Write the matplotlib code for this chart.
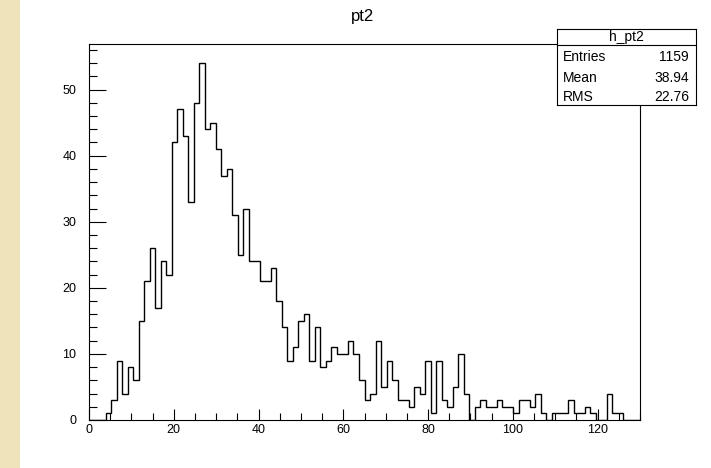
"""ROOT-style histogram of pt2 with a stats box."""

import numpy as np
import matplotlib
matplotlib.use("Agg")
import matplotlib.pyplot as plt
from matplotlib.ticker import MultipleLocator

plt.rcParams["font.family"] = ["Liberation Sans", "DejaVu Sans"]

# histogram h_pt2: 100 bins from 0 to 130
NBINS, XMIN, XMAX = 100, 0.0, 130.0
counts = [
    0, 0, 0, 1, 3, 9, 4, 8, 6, 15,
    21, 26, 17, 24, 22, 42, 47, 43, 33, 48,
    54, 44, 45, 41, 37, 38, 31, 25, 32, 24,
    24, 21, 21, 23, 18, 14, 9, 11, 15, 16,
    9, 14, 8, 9, 11, 10, 10, 12, 10, 6,
    3, 4, 12, 5, 9, 6, 3, 3, 2, 5,
    4, 9, 1, 9, 3, 2, 5, 10, 4, 0,
    2, 3, 2, 2, 3, 2, 2, 1, 3, 3,
    2, 4, 1, 0, 1, 1, 1, 3, 1, 1,
    2, 1, 0, 0, 4, 1, 1, 0, 0, 0,
]
title = "pt2"
stats_name = "h_pt2"
stats_labels = ["Entries", "Mean", "RMS"]
stats_values = ["1159", "38.94", "22.76"]

W, H = 711, 468
fig = plt.figure(figsize=(W / 100, H / 100), dpi=100)
fig.patch.set_facecolor("white")

# parchment strip on the left edge
strip = fig.add_axes([0, 0, 20 / W, 1])
strip.set_facecolor("#efe3bb")
strip.set_xticks([]); strip.set_yticks([])
for s in strip.spines.values():
    s.set_visible(False)

ax = fig.add_axes([89 / W, (H - 420) / H, 551 / W, 376 / H])
edges = np.linspace(XMIN, XMAX, NBINS + 1)
ax.stairs(counts, edges, color="black", lw=1.0, baseline=0)
ax.set_xlim(XMIN, XMAX)
ax.set_ylim(0, 56.9)

ax.xaxis.set_major_locator(MultipleLocator(20))
ax.xaxis.set_minor_locator(MultipleLocator(5))
ax.yaxis.set_major_locator(MultipleLocator(10))
ax.yaxis.set_minor_locator(MultipleLocator(2))
ax.tick_params(which="both", direction="in", top=False, right=False,
               labelsize=9, width=0.8, color="black")
ax.tick_params(axis="y", which="major", length=12, pad=9)
ax.tick_params(axis="y", which="minor", length=6)
ax.tick_params(axis="x", which="major", length=8, pad=3)
ax.tick_params(axis="x", which="minor", length=5)
for s in ax.spines.values():
    s.set_linewidth(0.8)

fig.text(363 / W, 1 - 16 / H, title, ha="center", va="center", fontsize=12)

# stats box
bx = fig.add_axes([557 / W, (H - 105) / H, 139 / W, 76 / H])
bx.set_xlim(0, 1); bx.set_ylim(0, 1)
bx.set_facecolor("white")
bx.set_xticks([]); bx.set_yticks([])
for s in bx.spines.values():
    s.set_linewidth(0.8)
bx.axhline(0.79, color="black", lw=0.8)
bx.text(0.5, 0.895, stats_name, ha="center", va="center", fontsize=10)
for lab, val, yy in zip(stats_labels, stats_values, [0.63, 0.36, 0.11]):
    bx.text(0.04, yy, lab, ha="left", va="center", fontsize=10)
    bx.text(0.95, yy, val, ha="right", va="center", fontsize=10)

fig.savefig("out.png", dpi=100)
